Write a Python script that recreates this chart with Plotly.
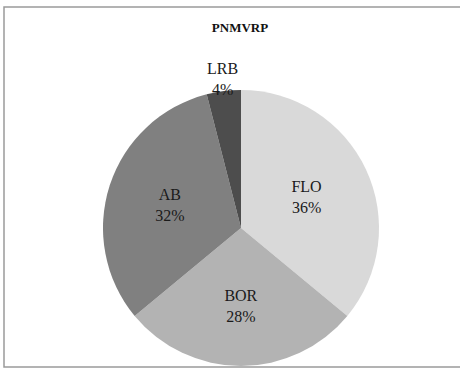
import math
import plotly.graph_objects as go

# Share of each class in the PNMVRP area
categories = ["FLO", "BOR", "AB", "LRB"]
shares = [36, 28, 32, 4]
slice_colors = ["#d9d9d9", "#b3b3b3", "#808080", "#4d4d4d"]
label_positions = ["inside", "inside", "inside", "none"]

W, H = 460, 369
cx, cy, r = 241, 228, 138
label_font = dict(family="Liberation Serif", size=16, color="#1a1a1a")

fig = go.Figure(
    go.Pie(
        labels=categories,
        values=shares,
        sort=False,
        direction="clockwise",
        rotation=0,
        marker=dict(colors=slice_colors, line=dict(width=0)),
        texttemplate="%{label}<br>%{percent:.0%}",
        textposition=label_positions,
        insidetextorientation="horizontal",
        textfont=label_font,
        showlegend=False,
        hoverinfo="label+percent",
        domain=dict(x=[(cx - r) / W, (cx + r) / W],
                    y=[1 - (cy + r) / H, 1 - (cy - r) / H]),
    )
)

# The small last slice gets its label just outside the rim, on its bisector
total = sum(shares)
start = sum(shares[:-1]) / total * 360
mid = math.radians(start + shares[-1] / total * 360 / 2)
lr = r * 1.085
lx = cx + lr * math.sin(mid)
ly = cy - lr * math.cos(mid)
small_label = f"{categories[-1]}<br>{round(shares[-1] / total * 100)}%"

fig.update_layout(
    width=W,
    height=H,
    margin=dict(l=0, r=0, t=0, b=0),
    paper_bgcolor="white",
    plot_bgcolor="white",
    title=dict(
        text="<b>PNMVRP</b>",
        x=240 / W,
        xanchor="center",
        y=1 - 27 / H,
        yanchor="middle",
        font=dict(family="Liberation Serif", size=13, color="#111111"),
    ),
    annotations=[
        dict(text=small_label, xref="paper", yref="paper",
             x=lx / W, y=1 - ly / H, xanchor="center", yanchor="middle",
             showarrow=False, font=label_font),
    ],
    shapes=[
        dict(type="rect", xref="paper", yref="paper",
             x0=4 / W, x1=1.05, y0=1 - 367 / H, y1=1 - 7 / H,
             line=dict(color="#9a9a9a", width=1.5), fillcolor="rgba(0,0,0,0)"),
    ],
)

fig.write_html("out.html")
